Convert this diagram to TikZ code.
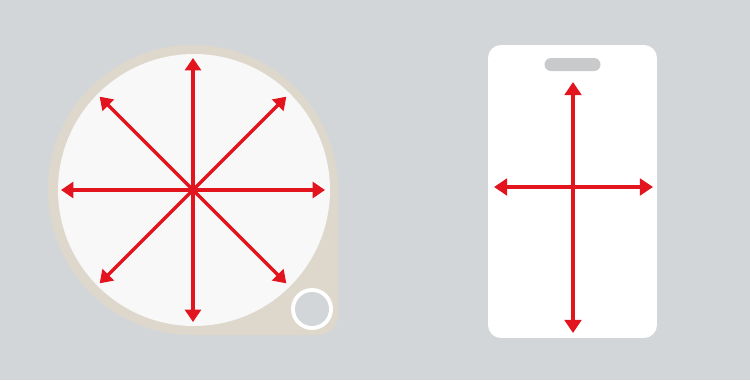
\documentclass[tikz,border=0pt]{standalone}
\usepackage{xcolor}
\usepackage{tikz}
\usetikzlibrary{arrows.meta,positioning,calc}

\definecolor{bgGray}{RGB}{211,214,216}
\definecolor{tagBeige}{RGB}{222,216,204}
\definecolor{faceWhite}{RGB}{248,248,249}
\definecolor{arrRed}{RGB}{226,20,30}
\definecolor{slotGray}{RGB}{201,202,203}

\begin{document}
\begin{tikzpicture}[
  x=0.02cm, y=0.02cm,
  face/.style={circle, fill=faceWhite, inner sep=0pt, minimum size=5.44cm},
  card/.style={rectangle, fill=white, rounded corners=0.26cm, inner sep=0pt, minimum width=3.38cm, minimum height=5.86cm},
  slot/.style={rectangle, fill=slotGray, rounded corners=0.13cm, inner sep=0pt, minimum width=1.12cm, minimum height=0.26cm},
  ray/.style={-{Triangle[width=9pt,length=7pt]}, line width=2pt, draw=arrRed},
  arr/.style={{Triangle[width=9.5pt,length=7.5pt]}-{Triangle[width=9.5pt,length=7.5pt]}, line width=2.3pt, draw=arrRed}
]

\useasboundingbox (0,0) rectangle (750,380);
\fill[bgGray] (0,0) rectangle (750,380);

\fill[tagBeige] (338,190) arc[start angle=0, end angle=270, radius=145] -- (318,45) arc[start angle=270, end angle=360, radius=20] -- cycle;
\node[face] (face) at (194,190) {};
\fill[white] (312,71) circle[radius=21];
\fill[bgGray] (312,71) circle[radius=17];

\coordinate (hub) at (193,190);
\foreach \a [count=\i] in {0,45,...,315} {
  \coordinate (tip\i) at ($(hub)+(\a:132)$);
  \draw[ray] (hub) -- (tip\i);
}

\node[card] (card) at (572.5,188.5) {};
\node[slot, below=0.26cm of card.north] (slot) {};

\coordinate (crossN) at (573,298);
\coordinate (crossS) at (573,47);
\coordinate (crossW) at (494,193);
\coordinate (crossE) at (653,193);

\draw[arr] (crossS) -- (crossN);
\draw[arr] (crossW) -- (crossE);

\end{tikzpicture}
\end{document}
